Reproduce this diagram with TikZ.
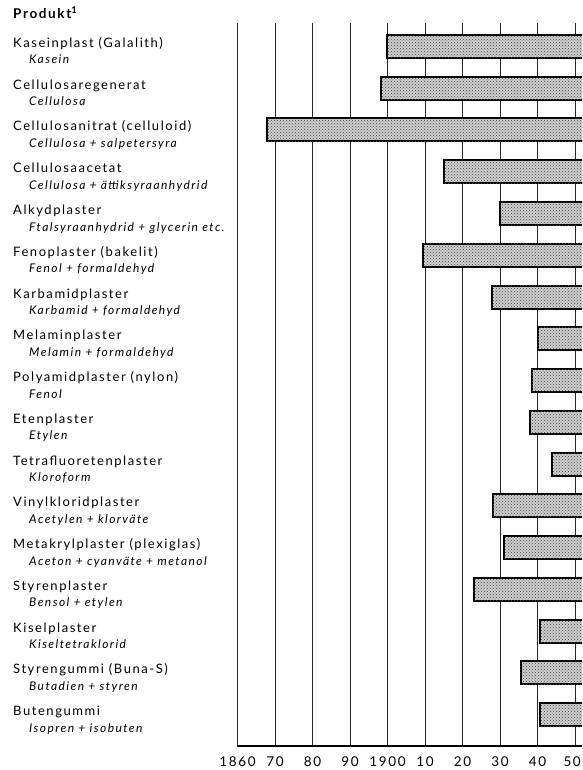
\documentclass[tikz,border=0pt]{standalone}
\usepackage{fontspec}
\setmainfont{Lato}[LetterSpace=12]
\usetikzlibrary{patterns}
\definecolor{barfill}{RGB}{205,205,205}
\tikzset{
  gridline/.style={draw=black!85, line width=0.9pt},
  axisline/.style={draw=black, line width=1.4pt},
  barbox/.style={draw=black, line width=2pt, fill=barfill,
    postaction={pattern=crosshatch dots, pattern color=black!70}},
  mainlbl/.style={anchor=base west, inner sep=0pt, font=\fontsize{13}{15}\selectfont},
  sublbl/.style={anchor=base west, inner sep=0pt, font=\fontsize{12}{14}\selectfont\itshape},
  yearlbl/.style={anchor=base, inner sep=0pt, font=\fontsize{13.5}{15}\selectfont},
  headlbl/.style={anchor=base west, inner sep=0pt, font=\fontsize{13.5}{15}\selectfont\bfseries}
}
\begin{document}
\begin{tikzpicture}[x=1pt,y=-1pt]
\useasboundingbox (0,0) rectangle (582,770);
\clip (0,0) rectangle (582,770);
% grid
\foreach \i in {0,...,9} {
  \draw[gridline] (237.5+37.5*\i,23) -- (237.5+37.5*\i,746);
}
\draw[axisline] (236.8,746) -- (600,746);
% year labels
\foreach \i/\t in {0/1860,1/70,2/80,3/90,4/1900,5/10,6/20,7/30,8/40} {
  \node[yearlbl] (year\i) at (237.5+37.5*\i,766) {\t};
}
\node[yearlbl, anchor=base east] (year9) at (581,766) {50};
% bars
\foreach \i/\x in {0/387.3,1/380.7,2/267.3,3/444.3,4/500,5/422.7,6/492.3,7/537.7,8/531.7,9/530,10/551.7,11/492.7,12/504.3,13/474.3,14/540,15/520.7,16/540} {
  \draw[barbox] (\x,35+41.75*\i) rectangle (620,58+41.75*\i);
}
% header
\node[headlbl] (head) at (13,19) {Produkt\textsuperscript{1}};
% labels
\foreach \i/\m/\s in {
  0/{Kaseinplast (Galalith)}/{Kasein},
  1/{Cellulosaregenerat}/{Cellulosa},
  2/{Cellulosanitrat (celluloid)}/{Cellulosa + salpetersyra},
  3/{Cellulosaacetat}/{Cellulosa + ättiksyraanhydrid},
  4/{Alkydplaster}/{Ftalsyraanhydrid + glycerin etc.},
  5/{Fenoplaster (bakelit)}/{Fenol + formaldehyd},
  6/{Karbamidplaster}/{Karbamid + formaldehyd},
  7/{Melaminplaster}/{Melamin + formaldehyd},
  8/{Polyamidplaster (nylon)}/{Fenol},
  9/{Etenplaster}/{Etylen},
  10/{Tetrafluoretenplaster}/{Kloroform},
  11/{Vinylkloridplaster}/{Acetylen + klorväte},
  12/{Metakrylplaster (plexiglas)}/{Aceton + cyanväte + metanol},
  13/{Styrenplaster}/{Bensol + etylen},
  14/{Kiselplaster}/{Kiseltetraklorid},
  15/{Styrengummi (Buna-S)}/{Butadien + styren},
  16/{Butengummi}/{Isopren + isobuten}} {
  \node[mainlbl] (prod\i) at (13,47.5+41.75*\i) {\m};
  \node[sublbl] (raw\i) at (29,64+41.75*\i) {\s};
}
\end{tikzpicture}
\end{document}
